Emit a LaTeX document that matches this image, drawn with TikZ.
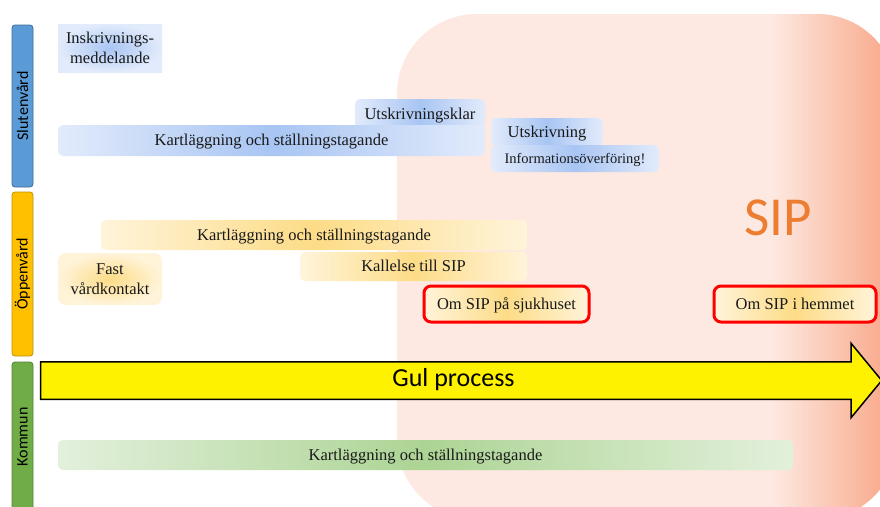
\documentclass[tikz,border=0pt]{standalone}
\usepackage{fontspec}
\setmainfont{Liberation Serif}
\newfontfamily\calib{Carlito}
\usetikzlibrary{shapes.arrows}
\definecolor{sippink}{RGB}{253,233,225}
\definecolor{sipsalmon}{RGB}{248,164,132}
\definecolor{sipword}{RGB}{237,125,49}
\definecolor{blueL}{RGB}{226,235,251}
\definecolor{blueM}{RGB}{168,197,243}
\definecolor{orangeL}{RGB}{255,244,218}
\definecolor{orangeM}{RGB}{253,220,135}
\definecolor{greenL}{RGB}{227,240,220}
\definecolor{greenM}{RGB}{172,212,148}
\definecolor{laneblue}{RGB}{91,155,213}
\definecolor{laneorange}{RGB}{255,192,0}
\definecolor{lanegreen}{RGB}{112,173,71}
\tikzset{
    %Define style for the lane bars
    lane/.style={
           rectangle,
           rounded corners=3pt,
           rotate=90,
           inner sep=0pt,
           minimum height=21pt,
           line width=0.8pt,
           font=\calib\fontsize{16}{19}\selectfont},
    %Define style for boxes
    box/.style={
           rectangle,
           rounded corners=5pt,
           inner sep=0pt,
           align=center,
           text=black!90,
           font=\fontsize{16.5}{20}\selectfont},
    blu/.style={box, left color=blueL, right color=blueL, middle color=blueM},
    ora/.style={box, left color=orangeL, right color=orangeL, middle color=orangeM},
    gre/.style={box, left color=greenL, right color=greenL, middle color=greenM},
    % one line boxes, text a little lower
    one/.style={text depth=1pt},
    % boxes with red frame
    sipbox/.style={ora, one, draw=red, line width=3pt, rounded corners=7pt}
}

\begin{document}
\begin{tikzpicture}[x=1pt, y=-1pt]

\useasboundingbox (0,0) rectangle (880,506);
\clip (0,0) rectangle (880,506);

% SIP area
\fill[sippink, rounded corners=80pt] (397,14) rectangle (897,520);
\begin{scope}
\clip[rounded corners=80pt] (397,14) rectangle (897,520);
\shade[left color=sippink, right color=sipsalmon] (772,0) rectangle (897,530);
\end{scope}
\node[font=\calib\fontsize{55}{60}\selectfont, text=sipword] (sip) at (778,218) {SIP};

% lanes
\node[lane, fill=laneblue, draw=laneblue!70!black, minimum width=162pt] (slut) at (22.5,106) {Slutenvård};
\node[lane, fill=laneorange, draw=laneorange!75!black, minimum width=164pt] (oppen) at (22.5,274) {Öppenvård};
\node[lane, fill=lanegreen, draw=lanegreen!75!black, minimum width=170pt] (kom) at (22.5,447) {};
\node[rotate=90, font=\calib\fontsize{16}{19}\selectfont] (komtext) at (22.5,437) {Kommun};

% Slutenvård
\node[blu, rounded corners=0pt, inner color=blueM, outer color=blueL, minimum width=104pt, minimum height=48pt] (insk) at (110,48) {Inskrivnings-\\meddelande};
\node[blu, one, minimum width=130pt, minimum height=31pt] (klar) at (420,114.5) {Utskrivningsklar};
\node[blu, one, minimum width=427pt, minimum height=31pt] (kartS) at (271.5,140.5) {Kartläggning och ställningstagande};
\node[blu, one, minimum width=112pt, minimum height=28pt] (utskr) at (547,132) {Utskrivning};
\node[blu, one, minimum width=168pt, minimum height=27pt, font=\fontsize{14.5}{17}\selectfont] (info) at (575,158.5) {Informationsöverföring!};

% Öppenvård
\node[ora, one, minimum width=426pt, minimum height=30pt] (kartO) at (314,235) {Kartläggning och ställningstagande};
\node[ora, rounded corners=8pt, inner color=orangeM, outer color=orangeL, minimum width=104pt, minimum height=52pt] (fast) at (110,279) {Fast\\vårdkontakt};
\node[ora, one, minimum width=227pt, minimum height=29pt] (kall) at (413.5,266.5) {Kallelse till SIP};
\node[sipbox, minimum width=165pt, minimum height=36pt] (sjuk) at (506.5,304) {Om SIP på sjukhuset};
\node[sipbox, minimum width=162pt, minimum height=36pt] (hem) at (795,304) {Om SIP i hemmet};

% Gul process
\node[single arrow, draw=black, fill=yellow, line width=1.5pt, minimum height=841pt, minimum width=73pt,
      text height=18pt, text depth=6pt, inner ysep=6pt, inner xsep=0pt,
      single arrow head extend=18.5pt, single arrow tip angle=101,
      font=\calib\fontsize{26}{30}\selectfont] (gul) at (453.5,380.5) {Gul process};

% Kommun
\node[gre, one, minimum width=735pt, minimum height=30pt] (kartK) at (425.5,455) {Kartläggning och ställningstagande};

\end{tikzpicture}
\end{document}
